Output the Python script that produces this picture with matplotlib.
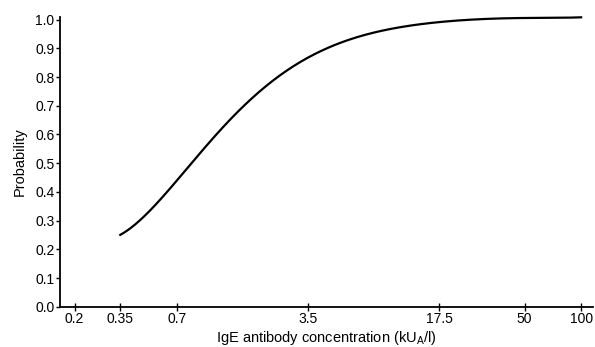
import numpy as np
import matplotlib.pyplot as plt

# values
conc = [0.35, 0.466, 0.597, 0.763, 0.976, 1.248, 1.665, 1.884, 2.614, 3.78,
        5.71, 8.60, 12.4, 16.6, 25.0, 37.7, 56.6, 100]
prob = [0.250, 0.314, 0.384, 0.471, 0.552, 0.628, 0.704, 0.744, 0.820, 0.884,
        0.924, 0.959, 0.979, 0.992, 1.000, 1.003, 1.006, 1.008]
xticks = [0.2, 0.35, 0.7, 3.5, 17.5, 50, 100]
xtick_labels = ["0.2", "0.35", "0.7", "3.5", "17.5", "50", "100"]
yticks = [0.0, 0.1, 0.2, 0.3, 0.4, 0.5, 0.6, 0.7, 0.8, 0.9, 1.0]

plt.rcParams['font.family'] = ['Liberation Sans', 'DejaVu Sans']

fig = plt.figure(figsize=(5.95, 3.47), dpi=100)
ax = fig.add_axes([0.1008, 0.1161, 0.895, 0.8357])

# smooth the read points in log space
lx = np.log10(conc)
coef = np.polyfit(lx, prob, 6)
fine = np.linspace(lx[0], lx[-1], 400)
ax.plot(10**fine, np.polyval(coef, fine), color='black', lw=1.6, clip_on=False)

ax.set_xscale('log')
ax.set_xlim(0.167, 115)
ax.set_ylim(0, 1.01)
ax.set_xticks(xticks)
ax.set_xticklabels(xtick_labels)
ax.minorticks_off()
ax.set_yticks(yticks)
ax.set_yticklabels([f"{v:.1f}" for v in yticks])

for s in ['top', 'right']:
    ax.spines[s].set_visible(False)
ax.spines['left'].set_linewidth(1.3)
ax.spines['bottom'].set_linewidth(1.3)
ax.tick_params(axis='x', direction='inout', length=6, width=1, labelsize=10, pad=1)
ax.tick_params(axis='y', direction='out', length=3, width=1, labelsize=10, pad=1)

ax.set_xlabel("IgE antibody concentration (kU$_\\mathregular{A}$/l)", fontsize=10.5, labelpad=2)
ax.set_ylabel("Probability", fontsize=10.5, labelpad=6)

fig.savefig("out.png", dpi=100)
